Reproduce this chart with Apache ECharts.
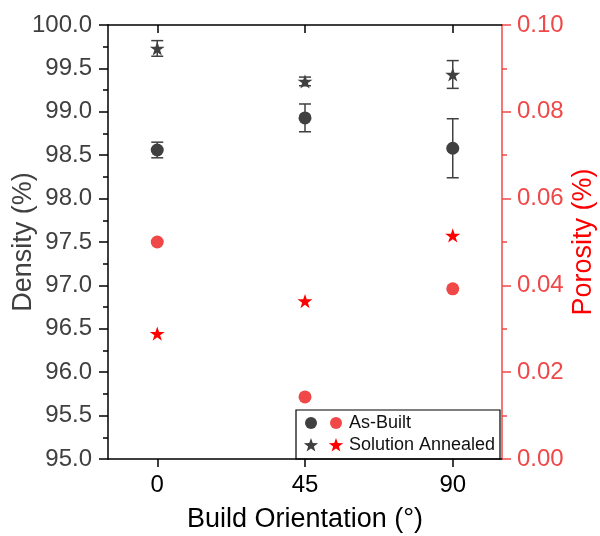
<!DOCTYPE html>
<html>
<head>
<meta charset="utf-8">
<script src="https://cdn.jsdelivr.net/npm/echarts@6/dist/echarts.min.js"></script>
<style>
  html, body { margin: 0; padding: 0; background: #fff; }
  #chart { width: 600px; height: 536px; }
</style>
</head>
<body>
<div id="chart"></div>
<script>
// Build orientations (degrees)
const orientations = [0, 45, 90];

// Density (%) with standard deviation
const densityAsBuilt = [98.56, 98.93, 98.58];
const densityAsBuiltErr = [0.09, 0.16, 0.34];
const densityAnnealed = [99.73, 99.35, 99.43];
const densityAnnealedErr = [0.09, 0.05, 0.16];

// Porosity (%)
const porosityAsBuilt = [0.050, 0.0143, 0.0392];
const porosityAnnealed = [0.0289, 0.0364, 0.0515];

// Axis tick values
const xTicks = [0, 45, 90];

const FONT = '"Liberation Sans", Arial, sans-serif';
const GRAY = '#404040';
const RED = '#ff0000';
const LIGHT_RED = '#f04848';
const STAR = 'path://M10,0 L12.245,6.91 L19.511,6.91 L13.633,11.18 L15.878,18.09 L10,13.82 L4.122,18.09 L6.367,11.18 L0.489,6.91 L7.755,6.91 Z';

function pairs(xs, ys) { return xs.map((x, i) => [x, ys[i]]); }
function errData(xs, ys, es) { return xs.map((x, i) => [x, ys[i] - es[i], ys[i] + es[i]]); }

// five-pointed star outline for the legend keys
function starPoints(cx, cy, R) {
  const r = R * 0.4;
  const pts = [];
  for (let k = 0; k < 10; k++) {
    const a = (-90 + 36 * k) * Math.PI / 180;
    const rad = k % 2 === 0 ? R : r;
    pts.push([cx + rad * Math.cos(a), cy + rad * Math.sin(a)]);
  }
  return pts;
}

function errorBar(params, api) {
  const x = api.value(0);
  const lo = api.coord([x, api.value(1)]);
  const hi = api.coord([x, api.value(2)]);
  const half = 6;
  const style = { stroke: GRAY, lineWidth: 1.5 };
  return {
    type: 'group',
    children: [
      { type: 'line', shape: { x1: lo[0], y1: lo[1], x2: hi[0], y2: hi[1] }, style },
      { type: 'line', shape: { x1: lo[0] - half, y1: lo[1], x2: lo[0] + half, y2: lo[1] }, style },
      { type: 'line', shape: { x1: hi[0] - half, y1: hi[1], x2: hi[0] + half, y2: hi[1] }, style }
    ]
  };
}

const chart = echarts.init(document.getElementById('chart'), null, { renderer: 'canvas' });

const option = {
  animation: false,
  backgroundColor: '#fff',
  textStyle: { fontFamily: FONT },
  grid: { left: 108, right: 98, top: 25, bottom: 77, containLabel: false, outerBoundsMode: 'none' },
  xAxis: [
    {
      type: 'value', position: 'bottom', min: -15, max: 105,
      name: 'Build Orientation (°)', nameLocation: 'middle', nameGap: 47, nameMoveOverlap: false,
      nameTextStyle: { color: '#000', fontSize: 27, fontFamily: FONT },
      axisLine: { onZero: false, lineStyle: { color: '#000', width: 1.5 } },
      axisTick: { show: true, inside: false, length: 8, customValues: xTicks, lineStyle: { color: '#000', width: 1.5 } },
      axisLabel: { customValues: xTicks, color: '#000', fontSize: 24, margin: 14, fontFamily: FONT },
      splitLine: { show: false }
    },
    {
      type: 'value', position: 'top', min: -15, max: 105,
      axisLine: { onZero: false, lineStyle: { color: '#000', width: 1.5 } },
      axisTick: { show: true, inside: true, length: 8, customValues: xTicks, lineStyle: { color: '#000', width: 1.5 } },
      axisLabel: { show: false },
      splitLine: { show: false }
    }
  ],
  yAxis: [
    {
      type: 'value', position: 'left', min: 95, max: 100, interval: 0.5,
      name: 'Density (%)', nameLocation: 'middle', nameGap: 71, nameMoveOverlap: false,
      nameTextStyle: { color: GRAY, fontSize: 27, fontFamily: FONT },
      axisLine: { show: true, onZero: false, lineStyle: { color: '#000', width: 1.5 } },
      axisTick: { show: true, length: 9, lineStyle: { color: '#000', width: 1.5 } },
      minorTick: { show: true, splitNumber: 2, length: 5, lineStyle: { color: '#000', width: 1.5 } },
      axisLabel: { color: GRAY, fontSize: 24, margin: 16, fontFamily: FONT, formatter: v => v.toFixed(1) },
      splitLine: { show: false }
    },
    {
      type: 'value', position: 'right', min: 0, max: 0.1, interval: 0.02,
      name: 'Porosity (%)', nameLocation: 'middle', nameGap: 68, nameMoveOverlap: false,
      nameTextStyle: { color: RED, fontSize: 27, fontFamily: FONT },
      axisLine: { show: true, onZero: false, lineStyle: { color: LIGHT_RED, width: 1.5 } },
      axisTick: { show: true, length: 9, lineStyle: { color: LIGHT_RED, width: 1.5 } },
      minorTick: { show: true, splitNumber: 2, length: 5, lineStyle: { color: LIGHT_RED, width: 1.5 } },
      axisLabel: { color: LIGHT_RED, fontSize: 24, margin: 15, fontFamily: FONT, formatter: v => v.toFixed(2) },
      splitLine: { show: false }
    }
  ],
  series: [
    {
      name: 'As-Built error', type: 'custom', xAxisIndex: 0, yAxisIndex: 0,
      renderItem: errorBar, data: errData(orientations, densityAsBuilt, densityAsBuiltErr), z: 1
    },
    {
      name: 'Solution Annealed error', type: 'custom', xAxisIndex: 0, yAxisIndex: 0,
      renderItem: errorBar, data: errData(orientations, densityAnnealed, densityAnnealedErr), z: 1
    },
    {
      name: 'As-Built density', type: 'scatter', xAxisIndex: 0, yAxisIndex: 0,
      symbol: 'circle', symbolSize: 13, itemStyle: { color: GRAY, opacity: 1 },
      data: pairs(orientations, densityAsBuilt), z: 3
    },
    {
      name: 'Solution Annealed density', type: 'scatter', xAxisIndex: 0, yAxisIndex: 0,
      symbol: STAR, symbolKeepAspect: true, symbolSize: 15, itemStyle: { color: GRAY, opacity: 1 },
      data: pairs(orientations, densityAnnealed), z: 3
    },
    {
      name: 'As-Built porosity', type: 'scatter', xAxisIndex: 0, yAxisIndex: 1,
      symbol: 'circle', symbolSize: 13, itemStyle: { color: LIGHT_RED, opacity: 1 },
      data: pairs(orientations, porosityAsBuilt), z: 3
    },
    {
      name: 'Solution Annealed porosity', type: 'scatter', xAxisIndex: 0, yAxisIndex: 1,
      symbol: STAR, symbolKeepAspect: true, symbolSize: 15, itemStyle: { color: RED, opacity: 1 },
      data: pairs(orientations, porosityAnnealed), z: 3
    }
  ],
  graphic: [
    {
      type: 'group', x: 296, y: 410, z: 10,
      children: [
        { type: 'rect', shape: { x: 0, y: 0, width: 204, height: 49 }, style: { fill: '#fff', stroke: '#000', lineWidth: 1.2 } },
        { type: 'circle', shape: { cx: 15, cy: 13, r: 6 }, style: { fill: GRAY } },
        { type: 'circle', shape: { cx: 40, cy: 13, r: 6 }, style: { fill: LIGHT_RED } },
        { type: 'text', x: 53, y: 13, style: { text: 'As-Built', fill: '#111', fontSize: 18, fontFamily: FONT, verticalAlign: 'middle' } },
        { type: 'polygon', shape: { points: starPoints(15, 35.5, 7.5) }, style: { fill: GRAY } },
        { type: 'polygon', shape: { points: starPoints(40, 35.5, 7.5) }, style: { fill: RED } },
        { type: 'text', x: 53, y: 35, style: { text: 'Solution Annealed', fill: '#111', fontSize: 18, fontFamily: FONT, verticalAlign: 'middle' } }
      ]
    }
  ]
};

chart.setOption(option);
</script>
</body>
</html>
